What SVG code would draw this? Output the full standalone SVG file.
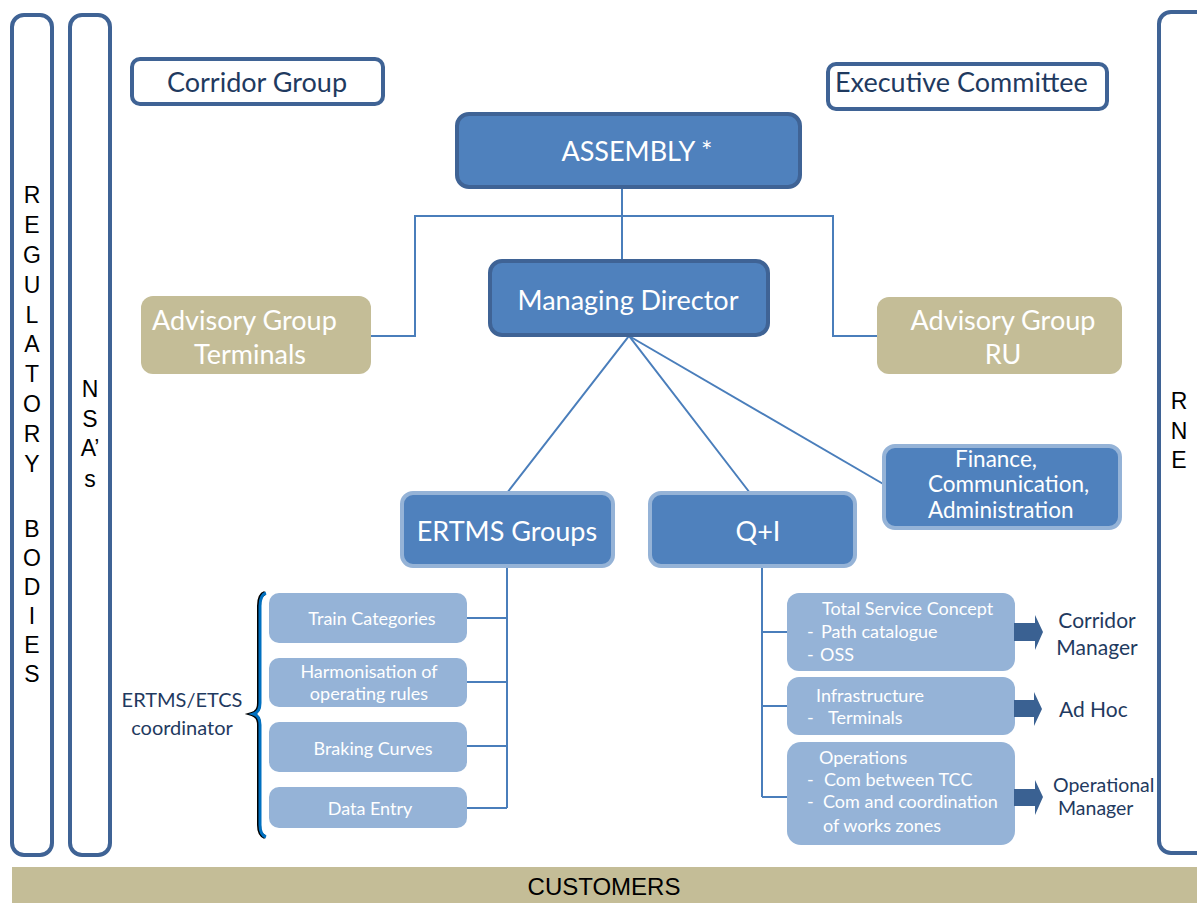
<svg xmlns="http://www.w3.org/2000/svg" width="1197" height="903" viewBox="0 0 1197 903">
<style>
.bar{fill:#fff;stroke:#3F6395;stroke-width:4}
.hdr{fill:#fff;stroke:#3F6395;stroke-width:4}
.dark{fill:#4F81BD;stroke:#3F6395;stroke-width:4}
.mid{fill:#4F81BD;stroke:#95B3D7;stroke-width:4}
.tan{fill:#C4BD97}
.lite{fill:#95B3D7}
.conn{fill:none;stroke:#4A7EBB;stroke-width:2}
.arr{fill:#3A6192}
.vl{font-family:"Liberation Sans",Arial,sans-serif;font-size:23px;fill:#000;text-anchor:middle}
.t{font-family:Lato,"Open Sans",sans-serif}
.w28{font-size:27px;fill:#fff}
.w18{font-size:18px;fill:#fff}
.n28{font-size:27px;fill:#1F3A60}
.n21{font-size:20px;fill:#1F3A60}
.mc{text-anchor:middle}
</style>

<g id="regulatory-bodies">
<rect class="bar" x="12" y="15" width="40" height="840" rx="12"/>
<text class="vl" x="32"><tspan x="32" y="203">R</tspan><tspan x="32" y="233">E</tspan><tspan x="32" y="263">G</tspan><tspan x="32" y="293">U</tspan><tspan x="32" y="323">L</tspan><tspan x="32" y="352">A</tspan><tspan x="32" y="382">T</tspan><tspan x="32" y="412">O</tspan><tspan x="32" y="442">R</tspan><tspan x="32" y="472">Y</tspan><tspan x="32" y="537">B</tspan><tspan x="32" y="566">O</tspan><tspan x="32" y="595">D</tspan><tspan x="32" y="624">I</tspan><tspan x="32" y="653">E</tspan><tspan x="32" y="682">S</tspan></text>
</g>

<g id="nsas">
<rect class="bar" x="70" y="15" width="40" height="840" rx="12"/>
<text class="vl" x="90"><tspan x="90" y="397">N</tspan><tspan x="90" y="427">S</tspan><tspan x="90" y="456">A’</tspan><tspan x="90" y="487">s</tspan></text>
</g>

<g id="rne">
<rect class="bar" x="1159" y="12" width="70" height="841" rx="12"/>
<text class="vl" x="1179"><tspan x="1179" y="409">R</tspan><tspan x="1179" y="439">N</tspan><tspan x="1179" y="468">E</tspan></text>
</g>

<g id="customers">
<rect class="tan" x="12" y="867" width="1185" height="36"/>
<text x="604" y="895" font-family="Liberation Sans, Arial, sans-serif" font-size="24" fill="#000" text-anchor="middle">CUSTOMERS</text>
</g>

<g id="connectors">
<path class="conn" d="M622,189 V259"/>
<path class="conn" d="M371,336 H415 V216 H833 V336 H878"/>
<path class="conn" d="M507,493 L629,336 L750,493"/>
<path class="conn" d="M629,336 L885,485"/>
<path class="conn" d="M507,568 V808 M467,618 H507 M467,682 H507 M467,746 H507 M467,808 H507"/>
<path class="conn" d="M762,568 V797 M762,632 H788 M762,706 H788 M762,797 H788"/>
</g>

<g id="corridor-group">
<rect class="hdr" x="132" y="59" width="251" height="45" rx="8"/>
<text class="t n28 mc" x="257" y="92">Corridor Group</text>
</g>

<g id="executive-committee">
<rect class="hdr" x="828" y="64" width="279" height="45" rx="8"/>
<text class="t n28" x="835" y="92">Executive Committee</text>
</g>

<g id="assembly">
<rect class="dark" x="457" y="114" width="343" height="73" rx="12"/>
<text class="t w28 mc" x="637" y="161">ASSEMBLY *</text>
</g>

<g id="managing-director">
<rect class="dark" x="490" y="261" width="278" height="74" rx="12"/>
<text class="t w28 mc" x="628" y="310">Managing Director</text>
</g>

<g id="advisory-terminals">
<rect class="tan" x="141" y="296" width="230" height="78" rx="12"/>
<text class="t w28"><tspan x="152" y="330">Advisory Group</tspan><tspan x="250" y="364" text-anchor="middle">Terminals</tspan></text>
</g>

<g id="advisory-ru">
<rect class="tan" x="877" y="297" width="245" height="77" rx="12"/>
<text class="t w28 mc"><tspan x="1003" y="330">Advisory Group</tspan><tspan x="1003" y="364">RU</tspan></text>
</g>

<g id="ertms-groups">
<rect class="mid" x="402" y="493" width="211" height="73" rx="11"/>
<text class="t w28 mc" x="507" y="541">ERTMS Groups</text>
</g>

<g id="q-i">
<rect class="mid" x="650" y="493" width="205" height="73" rx="11"/>
<text class="t w28 mc" x="758" y="541">Q+I</text>
</g>

<g id="finance">
<rect class="mid" x="884" y="446" width="236" height="82" rx="11"/>
<text class="t" font-size="22.5" fill="#fff"><tspan x="955" y="467">Finance,</tspan><tspan x="928" y="492">Communication,</tspan><tspan x="928" y="518">Administration</tspan></text>
</g>

<g id="ertms-coordinator">
<text class="t n21 mc"><tspan x="182" y="707">ERTMS/ETCS</tspan><tspan x="182" y="735">coordinator</tspan></text>
<path d="M265,593 Q259,595 259,606 L259,703 Q259,712 252,714 Q259,716 259,725 L259,825 Q259,835 265,837" fill="none" stroke="#000" stroke-width="4"/>
<path d="M266,593 Q260,595 260,606 L260,703 Q260,712 253.5,714 Q260,716 260,725 L260,825 Q260,835 266,837" fill="none" stroke="#0070C0" stroke-width="3"/>
</g>

<g id="train-categories">
<rect class="lite" x="269" y="593" width="198" height="50" rx="10"/>
<text class="t w18 mc" x="372" y="625">Train Categories</text>
</g>

<g id="harmonisation">
<rect class="lite" x="269" y="658" width="198" height="49" rx="10"/>
<text class="t w18 mc"><tspan x="369" y="678">Harmonisation of</tspan><tspan x="369" y="700">operating rules</tspan></text>
</g>

<g id="braking-curves">
<rect class="lite" x="269" y="722" width="198" height="50" rx="10"/>
<text class="t w18 mc" x="373" y="755">Braking Curves</text>
</g>

<g id="data-entry">
<rect class="lite" x="269" y="787" width="198" height="41" rx="10"/>
<text class="t w18 mc" x="370" y="815">Data Entry</text>
</g>

<g id="total-service-concept">
<rect class="lite" x="787" y="593" width="228" height="78" rx="12"/>
<text class="t w18"><tspan x="822" y="615">Total Service Concept</tspan><tspan x="807" y="638">-</tspan><tspan x="821" y="638">Path catalogue</tspan><tspan x="807" y="661">-</tspan><tspan x="820" y="661">OSS</tspan></text>
</g>

<g id="infrastructure">
<rect class="lite" x="787" y="677" width="228" height="58" rx="12"/>
<text class="t w18"><tspan x="816" y="702">Infrastructure</tspan><tspan x="807" y="724">-</tspan><tspan x="828" y="724">Terminals</tspan></text>
</g>

<g id="operations">
<rect class="lite" x="787" y="742" width="228" height="103" rx="14"/>
<text class="t w18"><tspan x="819" y="764">Operations</tspan><tspan x="807" y="786">-</tspan><tspan x="824" y="786">Com between TCC</tspan><tspan x="807" y="808">-</tspan><tspan x="823" y="808">Com and coordination</tspan><tspan x="823" y="832">of works zones</tspan></text>
</g>

<g id="arrows">
<polygon class="arr" points="1014,623 1035,623 1035,615 1043,632 1035,650 1035,641 1014,641"/>
<polygon class="arr" points="1014,700 1034,700 1034,692 1042,709 1034,726 1034,717 1014,717"/>
<polygon class="arr" points="1014,789 1035,789 1035,780 1043,797 1035,815 1035,806 1014,806"/>
</g>

<g id="corridor-manager">
<text class="t" font-size="21" fill="#1F3A60" text-anchor="middle"><tspan x="1097" y="628">Corridor</tspan><tspan x="1097" y="655">Manager</tspan></text>
</g>
<g id="ad-hoc">
<text class="t" font-size="21" fill="#1F3A60" x="1059" y="717">Ad Hoc</text>
</g>
<g id="operational-manager">
<text class="t" font-size="19.5" fill="#1F3A60"><tspan x="1053" y="792">Operational</tspan><tspan x="1058" y="815">Manager</tspan></text>
</g>
</svg>
